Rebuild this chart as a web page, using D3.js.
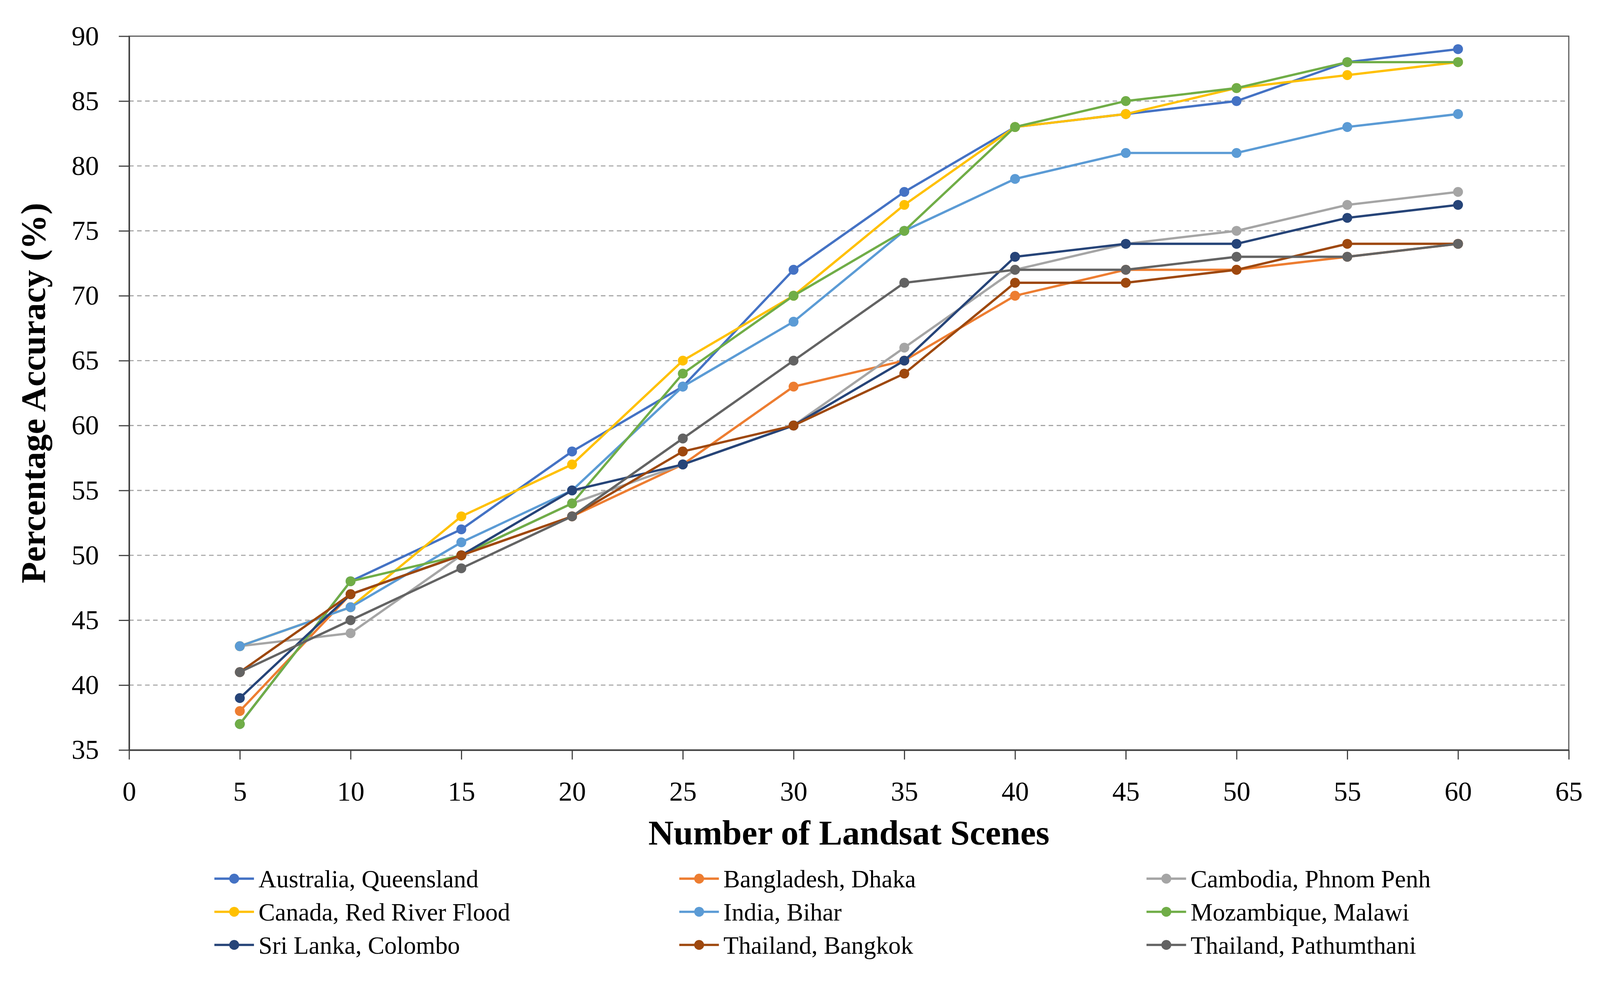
<html>
<head>
<script src="https://d3js.org/d3.v7.min.js"></script>
<style>
  html, body { margin: 0; padding: 0; background: #fff; overflow: hidden; }
  svg { display: block; }
  .tick text { font-family: "Liberation Serif", serif; font-size: 72px; fill: #000; }
  .axis-title { font-family: "Liberation Serif", serif; font-weight: bold; font-size: 92px; fill: #000; }
  .legend text { font-family: "Liberation Serif", serif; font-size: 65px; fill: #000; }
</style>
</head>
<body>
<svg viewBox="0 0 4202 2563" preserveAspectRatio="xMidYMin meet" style="width:100vw;height:100vh"></svg>
<script>
// data
var scenes = [5, 10, 15, 20, 25, 30, 35, 40, 45, 50, 55, 60];
var sites = ['Australia, Queensland', 'Bangladesh, Dhaka', 'Cambodia, Phnom Penh',
             'Canada, Red River Flood', 'India, Bihar', 'Mozambique, Malawi',
             'Sri Lanka, Colombo', 'Thailand, Bangkok', 'Thailand, Pathumthani'];
var australia   = [37, 48, 52, 58, 63, 72, 78, 83, 84, 85, 88, 89];
var bangladesh  = [38, 47, 50, 53, 57, 63, 65, 70, 72, 72, 73, 74];
var cambodia    = [43, 44, 50, 54, 57, 60, 66, 72, 74, 75, 77, 78];
var canada      = [43, 46, 53, 57, 65, 70, 77, 83, 84, 86, 87, 88];
var india       = [43, 46, 51, 55, 63, 68, 75, 79, 81, 81, 83, 84];
var mozambique  = [37, 48, 50, 54, 64, 70, 75, 83, 85, 86, 88, 88];
var srilanka    = [39, 47, 50, 55, 57, 60, 65, 73, 74, 74, 76, 77];
var bangkok     = [41, 47, 50, 53, 58, 60, 64, 71, 71, 72, 74, 74];
var pathumthani = [41, 45, 49, 53, 59, 65, 71, 72, 72, 73, 73, 74];
var xTicks = [0, 5, 10, 15, 20, 25, 30, 35, 40, 45, 50, 55, 60, 65];
var yTicks = [35, 40, 45, 50, 55, 60, 65, 70, 75, 80, 85, 90];

var colors = ['#4472C4', '#ED7D31', '#A5A5A5', '#FFC000', '#5B9BD5',
              '#70AD47', '#264478', '#9E480E', '#636363'];
var values = [australia, bangladesh, cambodia, canada, india,
              mozambique, srilanka, bangkok, pathumthani];

var series = sites.map((name, i) => {
    return { name: name, color: colors[i],
             points: scenes.map((s, j) => ({ x: s, y: values[i][j] })) };
});

var svg = d3.select('svg');
svg.append('rect').attr('width', 4202).attr('height', 2563).attr('fill', '#fff');

var x = d3.scaleLinear().domain([0, 65]).range([339, 4120]);
var y = d3.scaleLinear().domain([35, 90]).range([1970, 95]);

// dashed gridlines
svg.append('g')
    .selectAll('line')
    .data(yTicks.filter(d => d > 35 && d < 90))
    .enter()
    .append('line')
    .attr('x1', x(0)).attr('x2', x(65))
    .attr('y1', d => y(d)).attr('y2', d => y(d))
    .style('stroke', '#A6A6A6')
    .style('stroke-width', 3)
    .style('stroke-dasharray', '12,9');

// plot frame
svg.append('rect')
    .attr('x', x(0)).attr('y', y(90))
    .attr('width', x(65) - x(0)).attr('height', y(35) - y(90))
    .style('fill', 'none')
    .style('stroke', '#595959')
    .style('stroke-width', 3);

var xAxis = d3.axisBottom(x).tickValues(xTicks).tickSize(25).tickPadding(57).tickSizeOuter(0);
var gx = svg.append('g').attr('transform', 'translate(0,' + y(35) + ')').call(xAxis);

var yAxis = d3.axisLeft(y).tickValues(yTicks).tickSize(27).tickPadding(52).tickSizeOuter(0);
var gy = svg.append('g').attr('transform', 'translate(' + x(0) + ',0)').call(yAxis);

[gx, gy].forEach(g => {
    g.select('.domain').style('stroke', '#404040').style('stroke-width', 4);
    g.selectAll('.tick line').style('stroke', '#404040').style('stroke-width', 3);
});

// axis titles
svg.append('text')
    .attr('class', 'axis-title')
    .attr('x', (x(0) + x(65)) / 2)
    .attr('y', 2218)
    .attr('text-anchor', 'middle')
    .text('Number of Landsat Scenes');

svg.append('text')
    .attr('class', 'axis-title')
    .attr('transform', 'translate(118,' + (y(35) + y(90)) / 2 + ') rotate(-90)')
    .attr('text-anchor', 'middle')
    .text('Percentage Accuracy (%)');

// series
var line = d3.line().x(d => x(d.x)).y(d => y(d.y));
var groups = svg.append('g')
    .selectAll('g')
    .data(series)
    .enter()
    .append('g');
groups.append('path')
    .attr('d', d => line(d.points))
    .style('fill', 'none')
    .style('stroke', d => d.color)
    .style('stroke-width', 6);
groups.selectAll('circle')
    .data(d => d.points.map(p => ({ x: p.x, y: p.y, color: d.color })))
    .enter()
    .append('circle')
    .attr('cx', d => x(d.x))
    .attr('cy', d => y(d.y))
    .attr('r', 13)
    .style('fill', d => d.color);

// legend, three columns
var colX = [563, 1784, 3011];
var rowY = [2308, 2395, 2482];
var legend = svg.append('g')
    .attr('class', 'legend')
    .selectAll('g')
    .data(series)
    .enter()
    .append('g')
    .attr('transform', (d, i) => 'translate(' + colX[i % 3] + ',' + rowY[Math.floor(i / 3)] + ')');
legend.append('line')
    .attr('x1', 0).attr('x2', 104)
    .style('stroke', d => d.color)
    .style('stroke-width', 6);
legend.append('circle')
    .attr('cx', 52).attr('r', 13)
    .style('fill', d => d.color);
legend.append('text')
    .attr('x', 116)
    .attr('dy', '0.35em')
    .text(d => d.name);
</script>
</body>
</html>
